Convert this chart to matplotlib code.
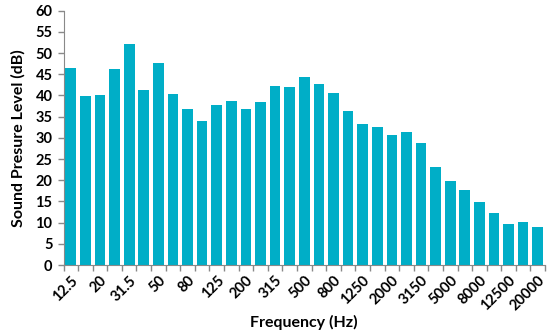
import numpy as np
import matplotlib
matplotlib.use('Agg')
import matplotlib.pyplot as plt

bands = ['12.5', '16', '20', '25', '31.5', '40', '50', '63', '80', '100', '125', '160',
         '200', '250', '315', '400', '500', '630', '800', '1000', '1250', '1600', '2000',
         '2500', '3150', '4000', '5000', '6300', '8000', '10000', '12500', '16000', '20000']
spl = [46.4, 39.9, 40.0, 46.2, 52.1, 41.3, 47.6, 40.3, 36.8, 33.9, 37.7, 38.7, 36.9,
       38.4, 42.2, 42.0, 44.3, 42.7, 40.6, 36.4, 33.2, 32.5, 30.7, 31.4, 28.7, 23.0,
       19.7, 17.6, 14.9, 12.2, 9.7, 10.1, 8.9]

plt.rcParams['font.family'] = ['Lato', 'DejaVu Sans']
plt.rcParams['font.weight'] = 'bold'

fig = plt.figure(figsize=(5.5, 3.32), dpi=100)
ax = fig.add_axes([0.1155, 0.2018, 0.8755, 0.7662])

x = np.arange(len(bands))
ax.bar(x, spl, width=0.73, color='#00AEC7')

ax.set_xlim(-0.5, len(bands) - 0.5)
ax.set_ylim(0, 60)
ax.set_yticks(np.arange(0, 61, 5))

# labels on every other band, tick marks between bands
ax.set_xticks(x[::2])
ax.set_xticklabels(bands[::2], rotation=45, ha='right', rotation_mode='anchor')
ax.set_xticks(np.arange(-0.5, len(bands), 1), minor=True)
ax.tick_params(axis='x', which='major', length=0, pad=6, labelsize=10.5)
ax.tick_params(axis='x', which='minor', length=4, color='#898989', width=1)
ax.tick_params(axis='y', length=4, color='#898989', width=1, labelsize=10.5, pad=4)

for s in ['top', 'right']:
    ax.spines[s].set_visible(False)
for s in ['left', 'bottom']:
    ax.spines[s].set_color('#898989')

ax.set_xlabel('Frequency (Hz)', fontsize=11.5, fontweight='bold', labelpad=1)
ax.set_ylabel('Sound Presure Level (dB)', fontsize=11.5, fontweight='bold', labelpad=7)

plt.savefig('out.png', dpi=100)
